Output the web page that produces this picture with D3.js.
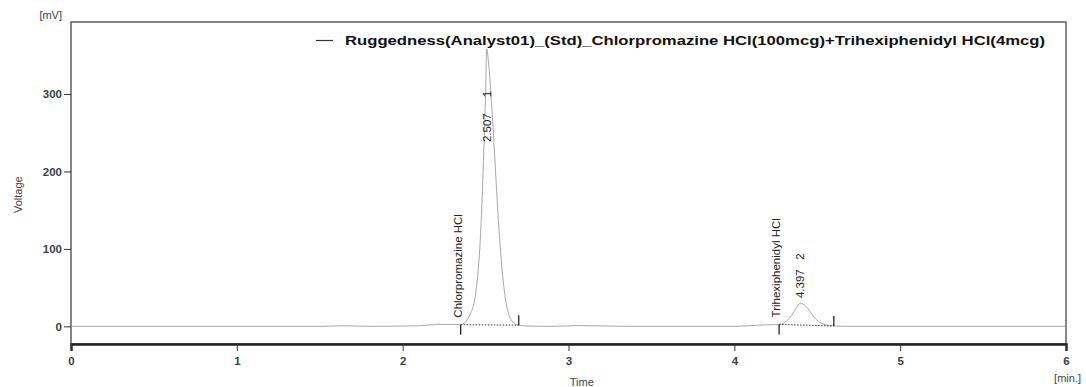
<!DOCTYPE html>
<html>
<head>
<meta charset="utf-8">
<script src="https://cdn.jsdelivr.net/npm/d3@7"></script>
<style>
  body { margin: 0; background: #fff; }
  text { font-family: "Liberation Sans", Arial, sans-serif; }
</style>
</head>
<body>
<div id="chart"></div>
<script>
// signal points: [time (min), voltage (mV)]
var signal = [
  [0, 0], [1.5, 0], [1.65, 0.8], [1.8, 0], [2.1, 0.8], [2.22, 2.5], [2.3, 2.5],
  [2.35, 2.2], [2.39, 9], [2.41, 17], [2.43, 30], [2.45, 60], [2.47, 120],
  [2.49, 230], [2.50, 300], [2.507, 358], [2.52, 335], [2.54, 275], [2.56, 200],
  [2.58, 128], [2.60, 72], [2.62, 35], [2.65, 10], [2.68, 3], [2.70, 1.5],
  [2.75, 0.5], [2.9, 0], [3.05, 1], [3.2, 0.5], [3.4, 0], [4.0, 0],
  [4.1, 1], [4.2, 2], [4.27, 2.5], [4.30, 4.5], [4.33, 10], [4.36, 19],
  [4.38, 26], [4.397, 30], [4.42, 28], [4.45, 21], [4.48, 12], [4.51, 6],
  [4.55, 2], [4.60, 0.5], [4.7, 0], [6, 0]
];

// integrated peaks: retention time, start/end of baseline, labels
var peakTimes = [2.507, 4.397];
var peakNumbers = ["1", "2"];
var peakNames = ["Chlorpromazine HCl", "Trihexiphenidyl HCl"];
var peakStart = [[2.35, 2.2], [4.27, 2.5]];
var peakEnd = [[2.70, 1.5], [4.60, 0.5]];

var xTicks = [0, 1, 2, 3, 4, 5, 6];
var yTicks = [0, 100, 200, 300];
var legendLabel = "Ruggedness(Analyst01)_(Std)_Chlorpromazine HCl(100mcg)+Trihexiphenidyl HCl(4mcg)";

var W = 1086, H = 387;
var margin = {top: 22, right: 20, bottom: 43, left: 71},
    width = W - margin.left - margin.right,
    height = H - margin.top - margin.bottom;

var svg = d3.select("#chart")
  .append("svg")
    .attr("width", W)
    .attr("height", H);

var g = svg.append("g")
  .attr("transform", "translate(" + margin.left + "," + margin.top + ")");

var x = d3.scaleLinear().domain([0, 6]).range([0, width]);
var y = d3.scaleLinear().domain([-22.8, 393]).range([height, 0]);

// frame
g.append("rect")
  .attr("width", width).attr("height", height)
  .attr("fill", "none").attr("stroke", "#444").attr("stroke-width", 1.3);

// signal trace
var line = d3.line()
  .x(function(d) { return x(d[0]); })
  .y(function(d) { return y(d[1]); })
  .curve(d3.curveMonotoneX);

g.append("path")
  .datum(signal)
  .attr("fill", "none")
  .attr("stroke", "#a8a8a8")
  .attr("stroke-width", 1)
  .attr("d", line);

// baselines of integrated peaks
peakStart.forEach(function(s, i) {
  var e = peakEnd[i];
  g.append("line")
    .attr("x1", x(s[0])).attr("y1", y(s[1]))
    .attr("x2", x(e[0])).attr("y2", y(e[1]))
    .attr("stroke", "#333").attr("stroke-width", 1)
    .attr("stroke-dasharray", "1.5,1.5");
  // start marker points down, end marker points up
  g.append("line")
    .attr("x1", x(s[0])).attr("x2", x(s[0]))
    .attr("y1", y(s[1])).attr("y2", y(s[1]) + 10)
    .attr("stroke", "#111").attr("stroke-width", 1.2);
  g.append("line")
    .attr("x1", x(e[0])).attr("x2", x(e[0]))
    .attr("y1", y(e[1])).attr("y2", y(e[1]) - 10)
    .attr("stroke", "#111").attr("stroke-width", 1.2);
});

// peak labels (vertical)
peakTimes.forEach(function(t, i) {
  var top = d3.max(signal.filter(function(d) { return Math.abs(d[0] - t) < 0.05; }), function(d) { return d[1]; });
  var px = x(t) + 4, py = i === 0 ? y(top) + 93 : y(top) - 5;
  g.append("text")
    .attr("transform", "translate(" + px + "," + py + ") rotate(-90)")
    .attr("font-size", 11.5).attr("fill", "#222")
    .attr("xml:space", "preserve")
    .text(t.toFixed(3) + (i === 0 ? "     " : "   ") + peakNumbers[i]);
  var sx = x(peakStart[i][0]) - 3;
  g.append("text")
    .attr("transform", "translate(" + (sx + 4) + "," + (y(peakStart[i][1]) - 7) + ") rotate(-90)")
    .attr("font-size", 11.5).attr("fill", "#222")
    .text(peakNames[i]);
});

// y axis
var yAxis = g.append("g")
  .call(d3.axisLeft(y).tickValues(yTicks).tickSize(7).tickPadding(2));
yAxis.select(".domain").remove();
yAxis.selectAll(".tick line").attr("stroke", "#333");
yAxis.selectAll("text")
  .attr("font-family", "Liberation Sans, Arial, sans-serif")
  .attr("font-size", 11.5).attr("font-weight", "bold").attr("fill", "#3a3f48");

// x axis
var xAxis = g.append("g")
  .attr("transform", "translate(0," + height + ")")
  .call(d3.axisBottom(x).tickValues(xTicks).tickSize(7).tickPadding(6).tickFormat(d3.format("d")));
xAxis.select(".domain").attr("stroke", "#222").attr("stroke-width", 2.5);
xAxis.selectAll(".tick line").attr("stroke", "#333");
xAxis.selectAll("text")
  .attr("font-family", "Liberation Sans, Arial, sans-serif")
  .attr("font-size", 11.5).attr("font-weight", "bold").attr("fill", "#3a3f48");

// unit labels
svg.append("text").attr("x", 62).attr("y", 19).attr("text-anchor", "end")
  .attr("font-size", 11).attr("fill", "#3a3f48").text("[mV]");
svg.append("text").attr("x", 1081).attr("y", 382).attr("text-anchor", "end")
  .attr("font-size", 11).attr("fill", "#3a3f48").text("[min.]");
svg.append("text")
  .attr("transform", "translate(22," + (margin.top + y(170)) + ") rotate(-90)")
  .attr("text-anchor", "middle").attr("font-size", 11).attr("fill", "#3a3f48")
  .text("Voltage");
svg.append("text").attr("x", margin.left + x(3.08)).attr("y", 385.5)
  .attr("text-anchor", "middle").attr("font-size", 11).attr("fill", "#3a3f48")
  .text("Time");

// legend
svg.append("line")
  .attr("x1", 316).attr("x2", 333).attr("y1", 40.5).attr("y2", 40.5)
  .attr("stroke", "#333").attr("stroke-width", 1.2);
svg.append("text")
  .attr("x", 345).attr("y", 45)
  .attr("font-size", 12.5).attr("font-weight", "bold").attr("fill", "#111")
  .attr("textLength", 700).attr("lengthAdjust", "spacingAndGlyphs")
  .text(legendLabel);
</script>
</body>
</html>
